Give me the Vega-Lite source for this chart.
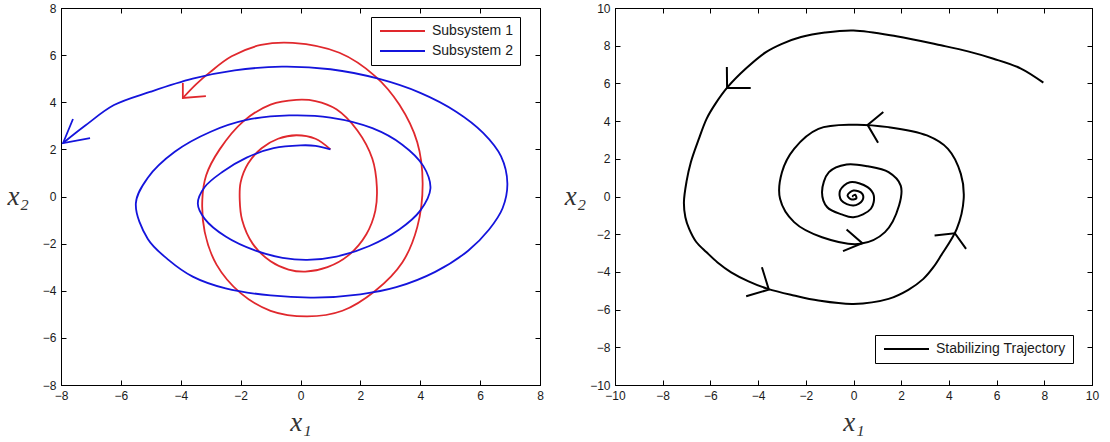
{
  "$schema": "https://vega.github.io/schema/vega-lite/v6.json",
  "padding": {"left": 6, "top": 1, "right": 5, "bottom": 0},
  "spacing": 19,
  "background": "white",
  "config": {
    "view": {"stroke": "black", "strokeWidth": 1},
    "axis": {
      "grid": false,
      "domainColor": "black",
      "tickColor": "black",
      "tickSize": -5,
      "labelPadding": 10,
      "labelFont": "Liberation Sans",
      "labelFontSize": 12,
      "labelColor": "#1a1a1a",
      "labelFlush": false,
      "labelOverlap": false,
      "titleFont": "Liberation Serif",
      "titleFontStyle": "italic",
      "titleFontWeight": "normal",
      "titleFontSize": 27,
      "titleColor": "#333333"
    },
    "legend": {
      "title": null,
      "strokeColor": "black",
      "fillColor": "white",
      "padding": 7,
      "rowPadding": 6,
      "symbolType": "M-1,0H8",
      "symbolSize": 100,
      "symbolStrokeWidth": 2,
      "labelOffset": 40,
      "labelFont": "Liberation Sans",
      "labelFontSize": 14,
      "labelColor": "#1a1a1a"
    }
  },
  "resolve": {"scale": {"color": "independent"}, "legend": {"color": "independent"}},
  "datasets": {
    "switched": [
      {"system": "Subsystem 1", "part": "path", "i": 0, "x1": 1.0, "x2": 2.0},
      {"system": "Subsystem 1", "part": "path", "i": 1, "x1": 0.5, "x2": 2.45},
      {"system": "Subsystem 1", "part": "path", "i": 2, "x1": -0.14, "x2": 2.6},
      {"system": "Subsystem 1", "part": "path", "i": 3, "x1": -0.75, "x2": 2.45},
      {"system": "Subsystem 1", "part": "path", "i": 4, "x1": -1.3, "x2": 2.05},
      {"system": "Subsystem 1", "part": "path", "i": 5, "x1": -1.75, "x2": 1.4},
      {"system": "Subsystem 1", "part": "path", "i": 6, "x1": -2.0, "x2": 0.6},
      {"system": "Subsystem 1", "part": "path", "i": 7, "x1": -2.03, "x2": -0.15},
      {"system": "Subsystem 1", "part": "path", "i": 8, "x1": -1.95, "x2": -1.0},
      {"system": "Subsystem 1", "part": "path", "i": 9, "x1": -1.6, "x2": -2.0},
      {"system": "Subsystem 1", "part": "path", "i": 10, "x1": -1.0, "x2": -2.75},
      {"system": "Subsystem 1", "part": "path", "i": 11, "x1": -0.4, "x2": -3.1},
      {"system": "Subsystem 1", "part": "path", "i": 12, "x1": 0.16, "x2": -3.19},
      {"system": "Subsystem 1", "part": "path", "i": 13, "x1": 0.9, "x2": -3.0},
      {"system": "Subsystem 1", "part": "path", "i": 14, "x1": 1.6, "x2": -2.5},
      {"system": "Subsystem 1", "part": "path", "i": 15, "x1": 2.2, "x2": -1.6},
      {"system": "Subsystem 1", "part": "path", "i": 16, "x1": 2.5, "x2": -0.6},
      {"system": "Subsystem 1", "part": "path", "i": 17, "x1": 2.55, "x2": 0.41},
      {"system": "Subsystem 1", "part": "path", "i": 18, "x1": 2.4, "x2": 1.6},
      {"system": "Subsystem 1", "part": "path", "i": 19, "x1": 1.9, "x2": 2.8},
      {"system": "Subsystem 1", "part": "path", "i": 20, "x1": 1.2, "x2": 3.7},
      {"system": "Subsystem 1", "part": "path", "i": 21, "x1": 0.5, "x2": 4.05},
      {"system": "Subsystem 1", "part": "path", "i": 22, "x1": -0.14, "x2": 4.1},
      {"system": "Subsystem 1", "part": "path", "i": 23, "x1": -1.0, "x2": 3.9},
      {"system": "Subsystem 1", "part": "path", "i": 24, "x1": -1.9, "x2": 3.2},
      {"system": "Subsystem 1", "part": "path", "i": 25, "x1": -2.7, "x2": 2.0},
      {"system": "Subsystem 1", "part": "path", "i": 26, "x1": -3.15, "x2": 0.9},
      {"system": "Subsystem 1", "part": "path", "i": 27, "x1": -3.28, "x2": -0.15},
      {"system": "Subsystem 1", "part": "path", "i": 28, "x1": -3.2, "x2": -1.5},
      {"system": "Subsystem 1", "part": "path", "i": 29, "x1": -2.8, "x2": -2.9},
      {"system": "Subsystem 1", "part": "path", "i": 30, "x1": -2.0, "x2": -4.1},
      {"system": "Subsystem 1", "part": "path", "i": 31, "x1": -1.0, "x2": -4.85},
      {"system": "Subsystem 1", "part": "path", "i": 32, "x1": 0.22, "x2": -5.09},
      {"system": "Subsystem 1", "part": "path", "i": 33, "x1": 1.4, "x2": -4.85},
      {"system": "Subsystem 1", "part": "path", "i": 34, "x1": 2.5, "x2": -4.0},
      {"system": "Subsystem 1", "part": "path", "i": 35, "x1": 3.4, "x2": -2.8},
      {"system": "Subsystem 1", "part": "path", "i": 36, "x1": 3.9, "x2": -1.3},
      {"system": "Subsystem 1", "part": "path", "i": 37, "x1": 4.08, "x2": 0.55},
      {"system": "Subsystem 1", "part": "path", "i": 38, "x1": 3.9, "x2": 2.3},
      {"system": "Subsystem 1", "part": "path", "i": 39, "x1": 3.3, "x2": 3.9},
      {"system": "Subsystem 1", "part": "path", "i": 40, "x1": 2.5, "x2": 5.1},
      {"system": "Subsystem 1", "part": "path", "i": 41, "x1": 1.3, "x2": 6.1},
      {"system": "Subsystem 1", "part": "path", "i": 42, "x1": -0.26, "x2": 6.52},
      {"system": "Subsystem 1", "part": "path", "i": 43, "x1": -1.32, "x2": 6.43},
      {"system": "Subsystem 1", "part": "path", "i": 44, "x1": -2.3, "x2": 5.95},
      {"system": "Subsystem 1", "part": "path", "i": 45, "x1": -3.02, "x2": 5.28},
      {"system": "Subsystem 1", "part": "path", "i": 46, "x1": -3.5, "x2": 4.75},
      {"system": "Subsystem 1", "part": "path", "i": 47, "x1": -3.93, "x2": 4.18},
      {"system": "Subsystem 1", "part": "arrow", "i": 0, "x1": -3.16, "x2": 4.26},
      {"system": "Subsystem 1", "part": "arrow", "i": 1, "x1": -3.93, "x2": 4.18},
      {"system": "Subsystem 1", "part": "arrow", "i": 2, "x1": -3.93, "x2": 4.82},
      {"system": "Subsystem 2", "part": "path", "i": 0, "x1": 1.0, "x2": 2.0},
      {"system": "Subsystem 2", "part": "path", "i": 1, "x1": 0.5, "x2": 2.15},
      {"system": "Subsystem 2", "part": "path", "i": 2, "x1": 0.0, "x2": 2.17},
      {"system": "Subsystem 2", "part": "path", "i": 3, "x1": -0.9, "x2": 2.05},
      {"system": "Subsystem 2", "part": "path", "i": 4, "x1": -1.8, "x2": 1.65},
      {"system": "Subsystem 2", "part": "path", "i": 5, "x1": -2.6, "x2": 1.05},
      {"system": "Subsystem 2", "part": "path", "i": 6, "x1": -3.2, "x2": 0.4},
      {"system": "Subsystem 2", "part": "path", "i": 7, "x1": -3.43, "x2": -0.3},
      {"system": "Subsystem 2", "part": "path", "i": 8, "x1": -3.2, "x2": -0.95},
      {"system": "Subsystem 2", "part": "path", "i": 9, "x1": -2.5, "x2": -1.7},
      {"system": "Subsystem 2", "part": "path", "i": 10, "x1": -1.5, "x2": -2.3},
      {"system": "Subsystem 2", "part": "path", "i": 11, "x1": -0.6, "x2": -2.6},
      {"system": "Subsystem 2", "part": "path", "i": 12, "x1": 0.22, "x2": -2.69},
      {"system": "Subsystem 2", "part": "path", "i": 13, "x1": 1.2, "x2": -2.55},
      {"system": "Subsystem 2", "part": "path", "i": 14, "x1": 2.3, "x2": -2.1},
      {"system": "Subsystem 2", "part": "path", "i": 15, "x1": 3.3, "x2": -1.4},
      {"system": "Subsystem 2", "part": "path", "i": 16, "x1": 4.0, "x2": -0.6},
      {"system": "Subsystem 2", "part": "path", "i": 17, "x1": 4.34, "x2": 0.34},
      {"system": "Subsystem 2", "part": "path", "i": 18, "x1": 4.1, "x2": 1.3},
      {"system": "Subsystem 2", "part": "path", "i": 19, "x1": 3.4, "x2": 2.2},
      {"system": "Subsystem 2", "part": "path", "i": 20, "x1": 2.4, "x2": 2.9},
      {"system": "Subsystem 2", "part": "path", "i": 21, "x1": 1.0, "x2": 3.35},
      {"system": "Subsystem 2", "part": "path", "i": 22, "x1": -0.38, "x2": 3.44},
      {"system": "Subsystem 2", "part": "path", "i": 23, "x1": -1.8, "x2": 3.25},
      {"system": "Subsystem 2", "part": "path", "i": 24, "x1": -3.0, "x2": 2.75},
      {"system": "Subsystem 2", "part": "path", "i": 25, "x1": -4.2, "x2": 1.9},
      {"system": "Subsystem 2", "part": "path", "i": 26, "x1": -5.1, "x2": 0.8},
      {"system": "Subsystem 2", "part": "path", "i": 27, "x1": -5.5, "x2": -0.3},
      {"system": "Subsystem 2", "part": "path", "i": 28, "x1": -5.1, "x2": -1.8},
      {"system": "Subsystem 2", "part": "path", "i": 29, "x1": -4.4, "x2": -2.7},
      {"system": "Subsystem 2", "part": "path", "i": 30, "x1": -3.6, "x2": -3.4},
      {"system": "Subsystem 2", "part": "path", "i": 31, "x1": -2.5, "x2": -3.9},
      {"system": "Subsystem 2", "part": "path", "i": 32, "x1": -1.0, "x2": -4.2},
      {"system": "Subsystem 2", "part": "path", "i": 33, "x1": 0.45, "x2": -4.29},
      {"system": "Subsystem 2", "part": "path", "i": 34, "x1": 2.0, "x2": -4.15},
      {"system": "Subsystem 2", "part": "path", "i": 35, "x1": 3.2, "x2": -3.85},
      {"system": "Subsystem 2", "part": "path", "i": 36, "x1": 4.5, "x2": -3.2},
      {"system": "Subsystem 2", "part": "path", "i": 37, "x1": 5.6, "x2": -2.3},
      {"system": "Subsystem 2", "part": "path", "i": 38, "x1": 6.3, "x2": -1.4},
      {"system": "Subsystem 2", "part": "path", "i": 39, "x1": 6.75, "x2": -0.5},
      {"system": "Subsystem 2", "part": "path", "i": 40, "x1": 6.91, "x2": 0.55},
      {"system": "Subsystem 2", "part": "path", "i": 41, "x1": 6.7, "x2": 1.7},
      {"system": "Subsystem 2", "part": "path", "i": 42, "x1": 6.1, "x2": 2.7},
      {"system": "Subsystem 2", "part": "path", "i": 43, "x1": 5.2, "x2": 3.6},
      {"system": "Subsystem 2", "part": "path", "i": 44, "x1": 4.0, "x2": 4.4},
      {"system": "Subsystem 2", "part": "path", "i": 45, "x1": 2.6, "x2": 5.0},
      {"system": "Subsystem 2", "part": "path", "i": 46, "x1": 1.0, "x2": 5.4},
      {"system": "Subsystem 2", "part": "path", "i": 47, "x1": -0.62, "x2": 5.51},
      {"system": "Subsystem 2", "part": "path", "i": 48, "x1": -2.2, "x2": 5.35},
      {"system": "Subsystem 2", "part": "path", "i": 49, "x1": -3.6, "x2": 5.0},
      {"system": "Subsystem 2", "part": "path", "i": 50, "x1": -5.0, "x2": 4.45},
      {"system": "Subsystem 2", "part": "path", "i": 51, "x1": -6.23, "x2": 3.88},
      {"system": "Subsystem 2", "part": "path", "i": 52, "x1": -7.2, "x2": 3.0},
      {"system": "Subsystem 2", "part": "path", "i": 53, "x1": -7.93, "x2": 2.27},
      {"system": "Subsystem 2", "part": "arrow", "i": 0, "x1": -7.6, "x2": 3.29},
      {"system": "Subsystem 2", "part": "arrow", "i": 1, "x1": -7.93, "x2": 2.27},
      {"system": "Subsystem 2", "part": "arrow", "i": 2, "x1": -7.03, "x2": 2.48}
    ],
    "stabilizing": [
      {"series": "Stabilizing Trajectory", "part": "path", "i": 0, "x1": 7.96, "x2": 6.04},
      {"series": "Stabilizing Trajectory", "part": "path", "i": 1, "x1": 7.0, "x2": 6.8},
      {"series": "Stabilizing Trajectory", "part": "path", "i": 2, "x1": 5.87, "x2": 7.31},
      {"series": "Stabilizing Trajectory", "part": "path", "i": 3, "x1": 4.8, "x2": 7.7},
      {"series": "Stabilizing Trajectory", "part": "path", "i": 4, "x1": 3.67, "x2": 8.02},
      {"series": "Stabilizing Trajectory", "part": "path", "i": 5, "x1": 1.8, "x2": 8.5},
      {"series": "Stabilizing Trajectory", "part": "path", "i": 6, "x1": 0.0, "x2": 8.81},
      {"series": "Stabilizing Trajectory", "part": "path", "i": 7, "x1": -1.2, "x2": 8.7},
      {"series": "Stabilizing Trajectory", "part": "path", "i": 8, "x1": -2.2, "x2": 8.46},
      {"series": "Stabilizing Trajectory", "part": "path", "i": 9, "x1": -3.0, "x2": 8.1},
      {"series": "Stabilizing Trajectory", "part": "path", "i": 10, "x1": -3.67, "x2": 7.66},
      {"series": "Stabilizing Trajectory", "part": "path", "i": 11, "x1": -4.5, "x2": 6.8},
      {"series": "Stabilizing Trajectory", "part": "path", "i": 12, "x1": -5.28, "x2": 5.8},
      {"series": "Stabilizing Trajectory", "part": "path", "i": 13, "x1": -5.8, "x2": 4.9},
      {"series": "Stabilizing Trajectory", "part": "path", "i": 14, "x1": -6.16, "x2": 4.12},
      {"series": "Stabilizing Trajectory", "part": "path", "i": 15, "x1": -6.5, "x2": 3.0},
      {"series": "Stabilizing Trajectory", "part": "path", "i": 16, "x1": -6.82, "x2": 1.82},
      {"series": "Stabilizing Trajectory", "part": "path", "i": 17, "x1": -7.0, "x2": 0.8},
      {"series": "Stabilizing Trajectory", "part": "path", "i": 18, "x1": -7.11, "x2": -0.3},
      {"series": "Stabilizing Trajectory", "part": "path", "i": 19, "x1": -7.05, "x2": -1.1},
      {"series": "Stabilizing Trajectory", "part": "path", "i": 20, "x1": -6.89, "x2": -1.72},
      {"series": "Stabilizing Trajectory", "part": "path", "i": 21, "x1": -6.6, "x2": -2.4},
      {"series": "Stabilizing Trajectory", "part": "path", "i": 22, "x1": -6.16, "x2": -2.96},
      {"series": "Stabilizing Trajectory", "part": "path", "i": 23, "x1": -5.7, "x2": -3.5},
      {"series": "Stabilizing Trajectory", "part": "path", "i": 24, "x1": -5.13, "x2": -4.02},
      {"series": "Stabilizing Trajectory", "part": "path", "i": 25, "x1": -4.4, "x2": -4.5},
      {"series": "Stabilizing Trajectory", "part": "path", "i": 26, "x1": -3.59, "x2": -4.9},
      {"series": "Stabilizing Trajectory", "part": "path", "i": 27, "x1": -2.5, "x2": -5.25},
      {"series": "Stabilizing Trajectory", "part": "path", "i": 28, "x1": -1.47, "x2": -5.52},
      {"series": "Stabilizing Trajectory", "part": "path", "i": 29, "x1": 0.0, "x2": -5.7},
      {"series": "Stabilizing Trajectory", "part": "path", "i": 30, "x1": 1.47, "x2": -5.43},
      {"series": "Stabilizing Trajectory", "part": "path", "i": 31, "x1": 2.3, "x2": -4.95},
      {"series": "Stabilizing Trajectory", "part": "path", "i": 32, "x1": 2.93, "x2": -4.37},
      {"series": "Stabilizing Trajectory", "part": "path", "i": 33, "x1": 3.35, "x2": -3.75},
      {"series": "Stabilizing Trajectory", "part": "path", "i": 34, "x1": 3.67, "x2": -3.13},
      {"series": "Stabilizing Trajectory", "part": "path", "i": 35, "x1": 4.33, "x2": -1.72},
      {"series": "Stabilizing Trajectory", "part": "path", "i": 36, "x1": 4.62, "x2": -0.12},
      {"series": "Stabilizing Trajectory", "part": "path", "i": 37, "x1": 4.5, "x2": 1.2},
      {"series": "Stabilizing Trajectory", "part": "path", "i": 38, "x1": 3.96, "x2": 2.53},
      {"series": "Stabilizing Trajectory", "part": "path", "i": 39, "x1": 3.08, "x2": 3.24},
      {"series": "Stabilizing Trajectory", "part": "path", "i": 40, "x1": 1.47, "x2": 3.68},
      {"series": "Stabilizing Trajectory", "part": "path", "i": 41, "x1": 0.0, "x2": 3.81},
      {"series": "Stabilizing Trajectory", "part": "path", "i": 42, "x1": -1.47, "x2": 3.59},
      {"series": "Stabilizing Trajectory", "part": "path", "i": 43, "x1": -2.49, "x2": 2.53},
      {"series": "Stabilizing Trajectory", "part": "path", "i": 44, "x1": -3.0, "x2": 1.29},
      {"series": "Stabilizing Trajectory", "part": "path", "i": 45, "x1": -3.08, "x2": -0.12},
      {"series": "Stabilizing Trajectory", "part": "path", "i": 46, "x1": -2.49, "x2": -1.36},
      {"series": "Stabilizing Trajectory", "part": "path", "i": 47, "x1": -1.32, "x2": -2.16},
      {"series": "Stabilizing Trajectory", "part": "path", "i": 48, "x1": 0.29, "x2": -2.51},
      {"series": "Stabilizing Trajectory", "part": "path", "i": 49, "x1": 1.32, "x2": -1.89},
      {"series": "Stabilizing Trajectory", "part": "path", "i": 50, "x1": 1.91, "x2": -0.48},
      {"series": "Stabilizing Trajectory", "part": "path", "i": 51, "x1": 1.98, "x2": 0.58},
      {"series": "Stabilizing Trajectory", "part": "path", "i": 52, "x1": 1.47, "x2": 1.29},
      {"series": "Stabilizing Trajectory", "part": "path", "i": 53, "x1": 0.6, "x2": 1.6},
      {"series": "Stabilizing Trajectory", "part": "path", "i": 54, "x1": -0.29, "x2": 1.7},
      {"series": "Stabilizing Trajectory", "part": "path", "i": 55, "x1": -1.03, "x2": 1.29},
      {"series": "Stabilizing Trajectory", "part": "path", "i": 56, "x1": -1.32, "x2": 0.23},
      {"series": "Stabilizing Trajectory", "part": "path", "i": 57, "x1": -1.1, "x2": -0.57},
      {"series": "Stabilizing Trajectory", "part": "path", "i": 58, "x1": -0.5, "x2": -0.95},
      {"series": "Stabilizing Trajectory", "part": "path", "i": 59, "x1": 0.0, "x2": -1.1},
      {"series": "Stabilizing Trajectory", "part": "path", "i": 60, "x1": 0.73, "x2": -0.65},
      {"series": "Stabilizing Trajectory", "part": "path", "i": 61, "x1": 0.85, "x2": 0.05},
      {"series": "Stabilizing Trajectory", "part": "path", "i": 62, "x1": 0.59, "x2": 0.5},
      {"series": "Stabilizing Trajectory", "part": "path", "i": 63, "x1": -0.15, "x2": 0.76},
      {"series": "Stabilizing Trajectory", "part": "path", "i": 64, "x1": -0.56, "x2": 0.32},
      {"series": "Stabilizing Trajectory", "part": "path", "i": 65, "x1": -0.51, "x2": -0.21},
      {"series": "Stabilizing Trajectory", "part": "path", "i": 66, "x1": 0.0, "x2": -0.48},
      {"series": "Stabilizing Trajectory", "part": "path", "i": 67, "x1": 0.37, "x2": -0.21},
      {"series": "Stabilizing Trajectory", "part": "path", "i": 68, "x1": 0.37, "x2": 0.14},
      {"series": "Stabilizing Trajectory", "part": "path", "i": 69, "x1": 0.0, "x2": 0.32},
      {"series": "Stabilizing Trajectory", "part": "path", "i": 70, "x1": -0.25, "x2": 0.05},
      {"series": "Stabilizing Trajectory", "part": "path", "i": 71, "x1": -0.07, "x2": -0.16},
      {"series": "Stabilizing Trajectory", "part": "path", "i": 72, "x1": 0.12, "x2": -0.09},
      {"series": "Stabilizing Trajectory", "part": "path", "i": 73, "x1": 0.07, "x2": 0.09},
      {"series": "Stabilizing Trajectory", "part": "path", "i": 74, "x1": -0.03, "x2": 0.02},
      {"series": "Stabilizing Trajectory", "part": "path", "i": 75, "x1": 0.0, "x2": 0.0},
      {"series": "Stabilizing Trajectory", "part": "a1", "i": 0, "x1": -5.31, "x2": 6.87},
      {"series": "Stabilizing Trajectory", "part": "a1", "i": 1, "x1": -5.3, "x2": 5.75},
      {"series": "Stabilizing Trajectory", "part": "a1", "i": 2, "x1": -4.31, "x2": 5.75},
      {"series": "Stabilizing Trajectory", "part": "a2", "i": 0, "x1": 1.25, "x2": 4.48},
      {"series": "Stabilizing Trajectory", "part": "a2", "i": 1, "x1": 0.59, "x2": 3.8},
      {"series": "Stabilizing Trajectory", "part": "a2", "i": 2, "x1": 1.03, "x2": 2.85},
      {"series": "Stabilizing Trajectory", "part": "a3", "i": 0, "x1": -0.29, "x2": -1.75},
      {"series": "Stabilizing Trajectory", "part": "a3", "i": 1, "x1": 0.37, "x2": -2.48},
      {"series": "Stabilizing Trajectory", "part": "a3", "i": 2, "x1": -0.44, "x2": -2.9},
      {"series": "Stabilizing Trajectory", "part": "a4", "i": 0, "x1": 3.4, "x2": -2.07},
      {"series": "Stabilizing Trajectory", "part": "a4", "i": 1, "x1": 4.25, "x2": -1.95},
      {"series": "Stabilizing Trajectory", "part": "a4", "i": 2, "x1": 4.72, "x2": -2.78},
      {"series": "Stabilizing Trajectory", "part": "a5", "i": 0, "x1": -3.84, "x2": -3.75},
      {"series": "Stabilizing Trajectory", "part": "a5", "i": 1, "x1": -3.55, "x2": -4.94},
      {"series": "Stabilizing Trajectory", "part": "a5", "i": 2, "x1": -4.5, "x2": -5.29}
    ]
  },
  "hconcat": [
    {
      "width": 479,
      "height": 377,
      "data": {"name": "switched"},
      "encoding": {
        "order": {"field": "i", "type": "quantitative"},
        "detail": {"field": "part", "type": "nominal"}
      },
      "layer": [
        {
          "transform": [{"filter": "datum.part === 'path'"}],
          "mark": {"type": "line", "strokeWidth": 1.8, "interpolate": "catmull-rom"},
          "encoding": {
            "x": {"field": "x1", "type": "quantitative", "scale": {"domain": [-8, 8], "nice": false, "zero": false},
                  "axis": {"orient": "bottom", "values": [-8, -6, -4, -2, 0, 2, 4, 6, 8], "title": "x₁", "titlePadding": 8}},
            "y": {"field": "x2", "type": "quantitative", "scale": {"domain": [-8, 8], "nice": false, "zero": false},
                  "axis": {"orient": "left", "values": [-8, -6, -4, -2, 0, 2, 4, 6, 8], "title": "x₂", "titleAngle": 0, "titleAlign": "right", "titleBaseline": "middle", "titlePadding": 14}},
            "color": {"field": "system", "type": "nominal",
                      "scale": {"domain": ["Subsystem 1", "Subsystem 2"], "range": ["#e0282d", "#1414dc"]},
                      "legend": {"orient": "none", "legendX": 310, "legendY": 9}}
          }
        },
        {
          "transform": [{"filter": "datum.part !== 'path'"}],
          "mark": {"type": "line", "strokeWidth": 1.8},
          "encoding": {
            "x": {"field": "x1", "type": "quantitative", "axis": null},
            "y": {"field": "x2", "type": "quantitative", "axis": null},
            "color": {"field": "system", "type": "nominal", "legend": null}
          }
        },
        {
          "mark": {"type": "line", "opacity": 0},
          "encoding": {
            "x": {"field": "x1", "type": "quantitative", "axis": {"orient": "top", "values": [-8, -6, -4, -2, 0, 2, 4, 6, 8], "labels": false, "title": null}},
            "y": {"field": "x2", "type": "quantitative", "axis": {"orient": "right", "values": [-8, -6, -4, -2, 0, 2, 4, 6, 8], "labels": false, "title": null}}
          }
        }
      ],
      "resolve": {"axis": {"x": "independent", "y": "independent"}}
    },
    {
      "width": 477,
      "height": 377,
      "data": {"name": "stabilizing"},
      "encoding": {
        "order": {"field": "i", "type": "quantitative"},
        "detail": {"field": "part", "type": "nominal"}
      },
      "layer": [
        {
          "transform": [{"filter": "datum.part === 'path'"}],
          "mark": {"type": "line", "strokeWidth": 2, "interpolate": "catmull-rom"},
          "encoding": {
            "x": {"field": "x1", "type": "quantitative", "scale": {"domain": [-10, 10], "nice": false, "zero": false},
                  "axis": {"orient": "bottom", "values": [-10, -8, -6, -4, -2, 0, 2, 4, 6, 8, 10], "title": "x₁", "titlePadding": 8}},
            "y": {"field": "x2", "type": "quantitative", "scale": {"domain": [-10, 10], "nice": false, "zero": false},
                  "axis": {"orient": "left", "values": [-10, -8, -6, -4, -2, 0, 2, 4, 6, 8, 10], "title": "x₂", "titleAngle": 0, "titleAlign": "right", "titleBaseline": "middle", "titlePadding": 4}},
            "color": {"field": "series", "type": "nominal",
                      "scale": {"range": ["#000000"]},
                      "legend": {"orient": "none", "legendX": 260, "legendY": 327}}
          }
        },
        {
          "transform": [{"filter": "datum.part !== 'path'"}],
          "mark": {"type": "line", "strokeWidth": 2},
          "encoding": {
            "x": {"field": "x1", "type": "quantitative", "axis": null},
            "y": {"field": "x2", "type": "quantitative", "axis": null},
            "color": {"field": "series", "type": "nominal", "legend": null}
          }
        },
        {
          "mark": {"type": "line", "opacity": 0},
          "encoding": {
            "x": {"field": "x1", "type": "quantitative", "axis": {"orient": "top", "values": [-10, -8, -6, -4, -2, 0, 2, 4, 6, 8, 10], "labels": false, "title": null}},
            "y": {"field": "x2", "type": "quantitative", "axis": {"orient": "right", "values": [-10, -8, -6, -4, -2, 0, 2, 4, 6, 8, 10], "labels": false, "title": null}}
          }
        }
      ],
      "resolve": {"axis": {"x": "independent", "y": "independent"}}
    }
  ]
}
